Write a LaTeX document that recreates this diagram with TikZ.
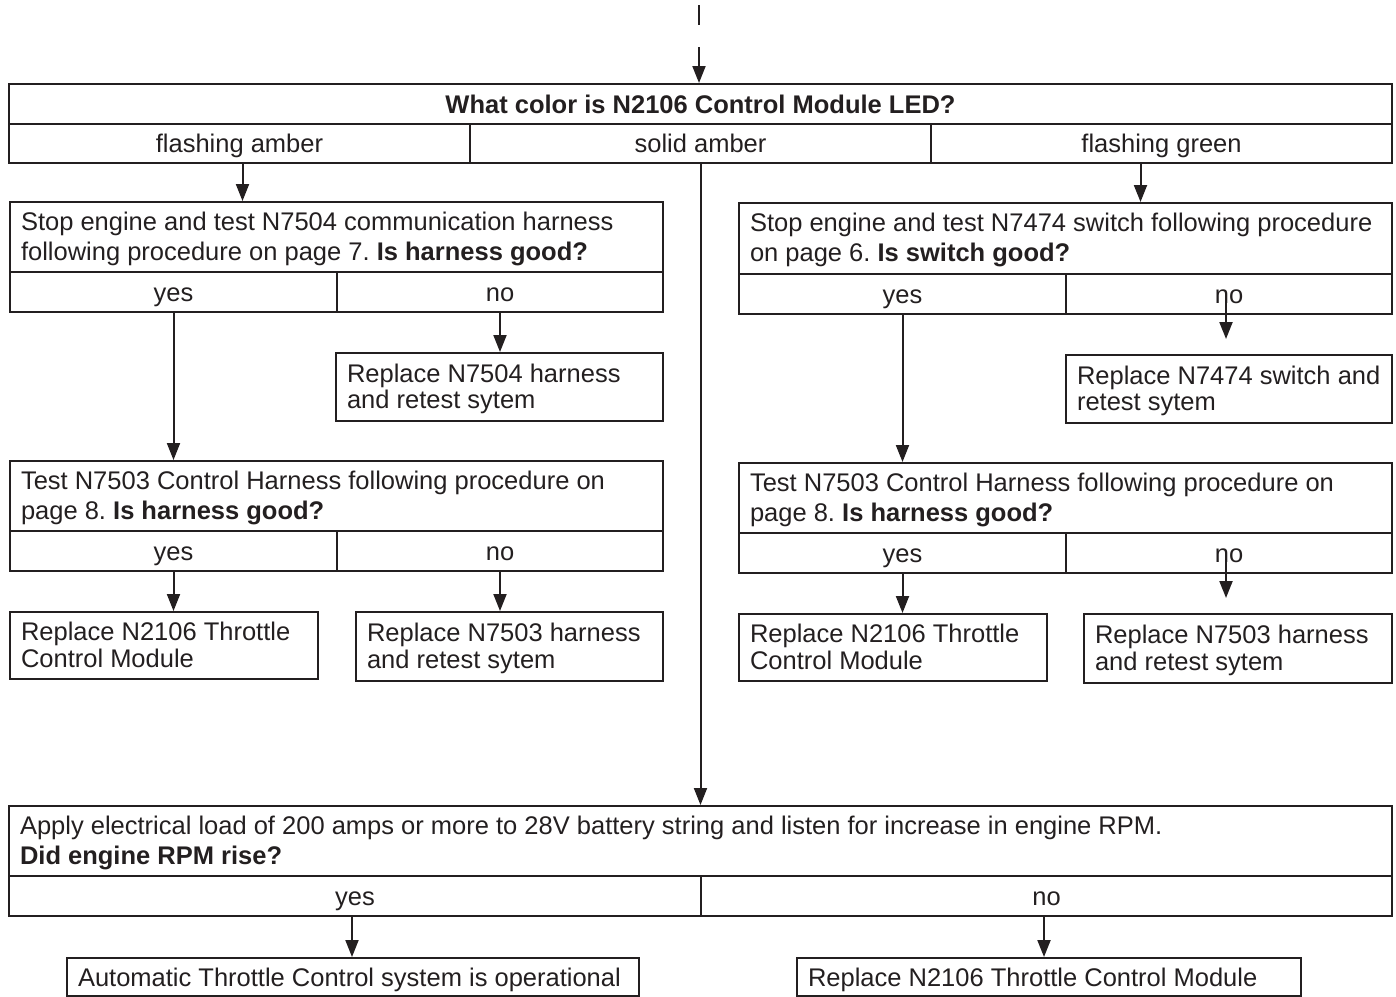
\documentclass[tikz,border=0pt]{standalone}
\usepackage{fontspec}
\setmainfont{Liberation Sans}
\usetikzlibrary{arrows.meta}
\definecolor{ink}{HTML}{231F20}
\frenchspacing
\newcommand\mytxt[2]{\makebox[#1][l]{\begin{tabular}{@{}l@{}}\rule{0pt}{12.5pt}#2\end{tabular}}}
\begin{document}
\begin{tikzpicture}[x=0.5pt,y=-0.5pt,
  cellbox/.style={draw=ink, line width=1pt, anchor=north west, inner sep=0pt, text=ink, font=\fontsize{12.75}{15}\selectfont, text height=10.5pt, text depth=1.5pt},
  txtbox/.style={draw=ink, line width=1pt, anchor=north west, inner xsep=5.5pt, inner ysep=0pt, text=ink, font=\fontsize{12.75}{15}\selectfont},
  repbox/.style={txtbox, font=\fontsize{12.75}{13.4}\selectfont},
  arr/.style={draw=ink, line width=1pt, -{Triangle[length=8.5pt,width=6.5pt]}},
  plain/.style={draw=ink, line width=1pt}]
\useasboundingbox (0,0) rectangle (1396,996);
% header
\node[cellbox, minimum width=691.5pt, minimum height=20pt] (title) at (8,83) {\textbf{What color is N2106 Control Module LED?}};
\node[cellbox, minimum width=230.5pt, minimum height=19.5pt] (fa) at (8,123) {flashing amber};
\node[cellbox, minimum width=230.5pt, minimum height=19.5pt] (sa) at (469,123) {solid amber};
\node[cellbox, minimum width=230.5pt, minimum height=19.5pt] (fg) at (930,123) {flashing green};
% left column
\node[txtbox, minimum width=326.5pt, minimum height=35pt] (q1l) at (9,201) {\mytxt{315.5pt}{Stop engine and test N7504 communication harness\\following procedure on page 7. \textbf{Is harness good?}}};
\node[cellbox, minimum width=163.5pt, minimum height=20pt] (q1ly) at (9,271) {yes};
\node[cellbox, minimum width=163pt, minimum height=20pt] (q1ln) at (336,271) {no};
\node[repbox, minimum width=163.5pt, minimum height=34pt] (r1l) at (335,352) {\mytxt{152.5pt}{Replace N7504 harness\\and retest sytem}};
\node[txtbox, minimum width=326.5pt, minimum height=35pt] (q2l) at (9,460) {\mytxt{315.5pt}{Test N7503 Control Harness following procedure on\\page 8. \textbf{Is harness good?}}};
\node[cellbox, minimum width=163.5pt, minimum height=20pt] (q2ly) at (9,530) {yes};
\node[cellbox, minimum width=163pt, minimum height=20pt] (q2ln) at (336,530) {no};
\node[repbox, minimum width=154pt, minimum height=33.5pt] (r2ly) at (9,611) {\mytxt{143pt}{Replace N2106 Throttle\\Control Module}};
\node[repbox, minimum width=153.5pt, minimum height=34.5pt] (r2ln) at (355,611) {\mytxt{142.5pt}{Replace N7503 harness\\and retest sytem}};
% right column
\node[txtbox, minimum width=326.5pt, minimum height=35.5pt] (q1r) at (738,202) {\mytxt{315.5pt}{Stop engine and test N7474 switch following procedure\\on page 6. \textbf{Is switch good?}}};
\node[cellbox, minimum width=163.5pt, minimum height=20pt] (q1ry) at (738,273) {yes};
\node[cellbox, minimum width=163pt, minimum height=20pt] (q1rn) at (1065,273) {no};
\node[repbox, minimum width=163pt, minimum height=34pt] (r1r) at (1065,354) {\mytxt{152pt}{Replace N7474 switch and\\retest sytem}};
\node[txtbox, minimum width=326.5pt, minimum height=35pt] (q2r) at (738,462) {\mytxt{315.5pt}{Test N7503 Control Harness following procedure on\\page 8. \textbf{Is harness good?}}};
\node[cellbox, minimum width=163.5pt, minimum height=20pt] (q2ry) at (738,532) {yes};
\node[cellbox, minimum width=163pt, minimum height=20pt] (q2rn) at (1065,532) {no};
\node[repbox, minimum width=154pt, minimum height=33.5pt] (r2ry) at (738,613) {\mytxt{143pt}{Replace N2106 Throttle\\Control Module}};
\node[repbox, minimum width=154pt, minimum height=34.5pt] (r2rn) at (1083,613) {\mytxt{143pt}{Replace N7503 harness\\and retest sytem}};
% bottom
\node[txtbox, minimum width=691.5pt, minimum height=35pt] (bq) at (8,805) {\mytxt{680.5pt}{Apply electrical load of 200 amps or more to 28V battery string and listen for increase in engine RPM.\\\textbf{Did engine RPM rise?}}};
\node[cellbox, minimum width=346pt, minimum height=20pt] (by) at (8,875) {yes};
\node[cellbox, minimum width=345.5pt, minimum height=20pt] (bn) at (700,875) {no};
\node[txtbox, minimum width=286pt, minimum height=19pt, text height=10.5pt, text depth=1.5pt] (bay) at (66,957) {\makebox[275pt][l]{Automatic Throttle Control system is operational}};
\node[txtbox, minimum width=252pt, minimum height=19pt, text height=10.5pt, text depth=1.5pt] (ban) at (796,957) {\makebox[241pt][l]{Replace N2106 Throttle Control Module}};
% connectors
\coordinate (t0) at (699,5);
\coordinate (t1) at (699,25);
\coordinate (t2) at (699,47);
\draw[plain] (t0) -- (t1);
\draw[arr] (t2) -- (t2 |- title.north);
\coordinate (fao) at ([xshift=1.5pt]fa.south);
\draw[arr] (fao) -- (fao |- q1l.north);
\coordinate (fgo) at ([xshift=-10.5pt]fg.south);
\draw[arr] (fgo) -- (fgo |- q1r.north);
\draw[arr] (sa.south) -- (sa.south |- bq.north);
\draw[arr] (q1ly.south) -- (q1ly.south |- q2l.north);
\draw[arr] (q1ln.south) -- (q1ln.south |- r1l.north);
\draw[arr] (q2ly.south) -- (q2ly.south |- r2ly.north);
\draw[arr] (q2ln.south) -- (q2ln.south |- r2ln.north);
\draw[arr] (q1ry.south) -- (q1ry.south |- q2r.north);
\coordinate (n1) at ([xshift=-1.5pt,yshift=-3pt]q1rn.center);
\path (n1) ++(0,39) coordinate (n1e);
\draw[arr] (n1) -- (n1e);
\draw[arr] (q2ry.south) -- (q2ry.south |- r2ry.north);
\coordinate (n2) at ([xshift=-1.5pt,yshift=-3pt]q2rn.center);
\path (n2) ++(0,39) coordinate (n2e);
\draw[arr] (n2) -- (n2e);
\coordinate (byo) at ([xshift=-1.5pt]by.south);
\draw[arr] (byo) -- (byo |- bay.north);
\coordinate (bno) at ([xshift=-1.25pt]bn.south);
\draw[arr] (bno) -- (bno |- ban.north);
\end{tikzpicture}
\end{document}
